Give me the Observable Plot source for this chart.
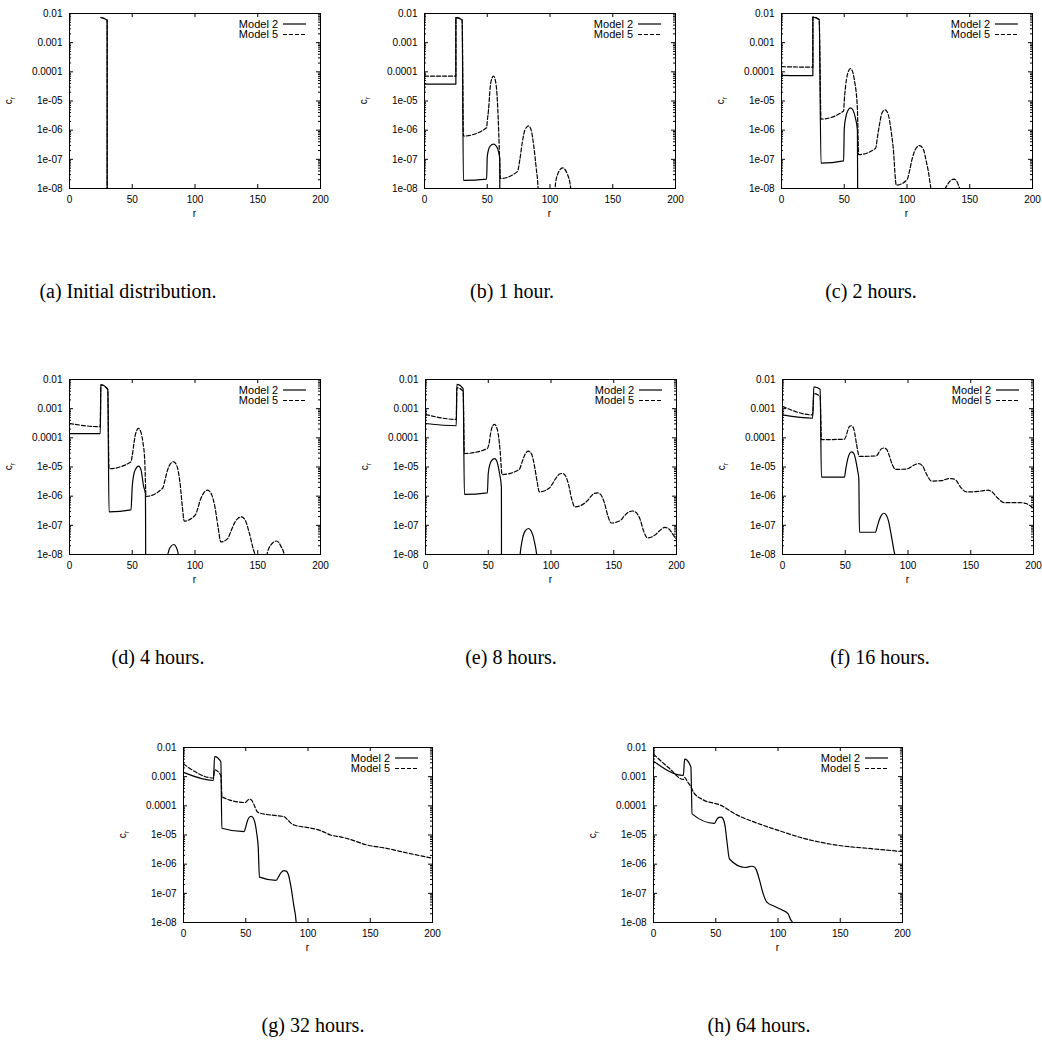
<!DOCTYPE html>
<html>
<head>
<meta charset="utf-8">
<script src="https://cdn.jsdelivr.net/npm/d3@7"></script>
<script src="https://cdn.jsdelivr.net/npm/@observablehq/plot@0.6"></script>
<style>
  html, body { margin: 0; padding: 0; background: #fff; overflow: hidden; }
  #root { position: relative; width: 1042px; height: 1048px; overflow: hidden; }
  .panel { position: absolute; }
  .panel svg { max-width: none !important; display: block; }
  .cap { position: absolute; font-family: "Liberation Serif", "Times New Roman", serif; font-size: 20px; line-height: 23px; white-space: nowrap; transform: translateX(-50%); color: #000; }
</style>
</head>
<body>
<div id="root"></div>
<script>
// ---------- axis / legend text ----------
const xTicks = [0, 50, 100, 150, 200];
const yTicks = [1e-8, 1e-7, 1e-6, 1e-5, 1e-4, 1e-3, 1e-2];
const yTickLabels = ["1e-08", "1e-07", "1e-06", "1e-05", "0.0001", "0.001", "0.01"];
const seriesNames = ["Model 2", "Model 5"];
const captions = ["(a) Initial distribution.", "(b) 1 hour.", "(c) 2 hours.", "(d) 4 hours.",
                  "(e) 8 hours.", "(f) 16 hours.", "(g) 32 hours.", "(h) 64 hours."];
const OFF = 1e-12; // value below the axis (zero concentration), clipped

// ---------- data: [r, c_r] ----------
const m2a = [[25,0.0073],[30,0.0059],[30.01,OFF]];
const m5a = [[25,0.0073],[30,0.0059],[30.01,OFF]];

const m2b = [[0,3.8e-5],[25,3.8e-5],[25,0.0072],[30,0.006],[31,1.9e-8],[49.5,2.1e-8],
  [50,1.2e-7],[51,2.1e-7],[52.5,2.9e-7],[55,3.3e-7],[57,2.9e-7],[59,1.8e-7],[60,1e-7],[60,OFF]];
const m5b = [[0,7.1e-5],[25,7.1e-5],[25,0.0072],[30,0.006],[31,6.3e-7],[49.5,1.2e-6],
  [50,2e-6],[51,4.9e-6],[52.4,3.1e-5],[53.7,5.9e-5],[55,7.1e-5],[56.4,5.2e-5],[57.7,1.8e-5],[59,1.3e-6],[59.8,1.2e-7],[60.5,2.2e-8],
  [74,3.8e-8],[76,1e-7],[78,4e-7],[80,1e-6],[83,1.4e-6],[85,1e-6],[87,3e-7],[89,5e-8],[90.5,1e-8],[91,OFF],
  [103,OFF],[104,1e-8],[106,3e-8],[110,5.1e-8],[114,3e-8],[116.5,1e-8],[117,OFF]];

const m2c = [[0,7.6e-5],[25,7.4e-5],[25,0.0075],[30,0.0062],[31.5,7.4e-8],[49.5,8.9e-8],
  [50,1.1e-6],[51,2.5e-6],[53,4.8e-6],[55,5.8e-6],[57,4.8e-6],[59,2.5e-6],[60.5,1e-6],[61,OFF]];
const m5c = [[0,1.5e-4],[25,1.45e-4],[25,0.0075],[30,0.0062],[31.5,2.4e-6],[49.5,4.5e-6],
  [50,1e-5],[51,3e-5],[52.5,8e-5],[55,1.3e-4],[57,9e-5],[58.5,4e-5],[59.5,2e-5],[60.5,5e-6],[61.5,1.45e-7],
  [75,2.4e-7],[76.5,6e-7],[78,1.5e-6],[80,3.8e-6],[82.5,5e-6],[85,3.5e-6],[87,1.2e-6],[89,2.5e-7],[91.5,1.3e-8],
  [100,2e-8],[102,4e-8],[104,1e-7],[107,2.3e-7],[110,2.95e-7],[113,2.2e-7],[115.5,8e-8],[118,2e-8],[119.5,5e-9],[120,OFF],
  [127,OFF],[128,5e-9],[132,1.3e-8],[137.5,2.1e-8],[141,1.3e-8],[143,6e-9],[143.5,OFF]];

const m2d = [[0,1.4e-4],[24.5,1.4e-4],[25,0.0066],[30.5,0.0046],[31.5,2.9e-7],[49,3.4e-7],
  [50,2.2e-6],[51,5e-6],[53,9e-6],[55,1.07e-5],[57,8e-6],[59,2.2e-6],[60.5,1.2e-6],[61,OFF],
  [77.5,OFF],[78,8e-9],[80,1.7e-8],[83,2.2e-8],[85.5,1.6e-8],[87,8e-9],[87.5,OFF]];
const m5d = [[0,3.1e-4],[24.5,2.4e-4],[25,0.0066],[30.5,0.0046],[31.5,8.7e-6],[49,1.5e-5],
  [50,2.5e-5],[51,5e-5],[52.5,1.3e-4],[55,2.1e-4],[57,1.5e-4],[58.5,7e-5],[60,1.5e-5],[61,9.8e-7],
  [74.3,1.9e-6],[76,3.5e-6],[78,7.5e-6],[80.5,1.3e-5],[83,1.5e-5],[85.5,1.1e-5],[88,3e-6],[90,4e-7],[91.4,1.4e-7],
  [100,2.2e-7],[102,3.5e-7],[104,7e-7],[107,1.3e-6],[110,1.6e-6],[113,1.2e-6],[116,4e-7],[118.5,8e-8],[120.6,2.7e-8],
  [126,3.5e-8],[128.5,6e-8],[131,1.1e-7],[134,1.7e-7],[137,1.95e-7],[140,1.5e-7],[143,6e-8],[146,1.8e-8],[148.5,6e-9],[149,OFF],
  [156.5,OFF],[157,8e-9],[160,2e-8],[165,2.9e-8],[168.5,1.9e-8],[171.5,8e-9],[172,OFF]];

const m2e = [[0,3.1e-4],[24.5,2.6e-4],[25,0.0068],[30,0.0049],[31,1.15e-6],[49.3,1.3e-6],
  [50,6e-6],[51.5,1.3e-5],[53.5,1.8e-5],[55.2,1.95e-5],[57,1.5e-5],[59,6e-6],[60.5,2e-6],[60.6,OFF],
  [74.5,OFF],[75,6e-9],[77,3e-8],[79.5,6.5e-8],[82,7.8e-8],[84.5,6e-8],[87,2.5e-8],[89,6e-9],[89.5,OFF]];
const m5e = [[0,6.3e-4],[24.5,4.3e-4],[25,0.0052],[30,0.004],[31,2.9e-5],[49.3,4.3e-5],
  [50.5,6e-5],[52,1.5e-4],[53.5,2.6e-4],[55,2.9e-4],[56.5,2.4e-4],[58,1.3e-4],[59.5,3.5e-5],[61,5.5e-6],
  [74.7,8.2e-6],[77,1.5e-5],[79.5,2.8e-5],[82,3.5e-5],[84.5,2.8e-5],[87,1e-5],[89,3e-6],[90.7,1.4e-6],
  [98.7,1.9e-6],[101,2.6e-6],[104,4.2e-6],[106.5,5.6e-6],[109,6e-6],[111.5,5e-6],[114,2.5e-6],[116.5,8e-7],[119,4.3e-7],
  [126.7,5.7e-7],[129,7e-7],[132,1e-6],[134.5,1.25e-6],[137,1.3e-6],[139.5,1.15e-6],[142.5,6e-7],[145.5,2e-7],[148,1.2e-7],
  [155.5,1.5e-7],[158,2e-7],[161,2.7e-7],[165,3.1e-7],[168,2.7e-7],[171,1.6e-7],[174,6e-8],[177,3.7e-8],
  [183.5,4.9e-8],[186.5,6.5e-8],[190.7,8.5e-8],[194,7.5e-8],[197,5e-8],[200,3.3e-8]];

const m2f = [[0,6.1e-4],[24,4.7e-4],[25,0.0056],[30,0.0046],[31,4.5e-6],[49.3,4.5e-6],
  [50.5,9e-6],[52,1.9e-5],[53.5,2.9e-5],[55.2,3.3e-5],[57,2.8e-5],[58.5,1.6e-5],[60,7e-6],[60.8,4e-6],[61.3,5.8e-8],
  [74,5.8e-8],[75.5,9e-8],[77,1.5e-7],[79,2.3e-7],[80.8,2.6e-7],[82.5,2.3e-7],[84.5,1.4e-7],[86.5,5e-8],[88.5,1.6e-8],[90,6e-9],[90.5,OFF]];
const m5f = [[0,1.2e-3],[24,6.1e-4],[25,0.0033],[30,0.0026],[31,8.7e-5],[49,8.9e-5],
  [50.5,1.1e-4],[52,1.8e-4],[53.5,2.5e-4],[54.7,2.6e-4],[56,2.4e-4],[57.5,1.5e-4],[59,6e-5],[61.3,2.3e-5],
  [74.7,2.4e-5],[76.5,3e-5],[78.5,4.1e-5],[80.8,4.5e-5],[83,4e-5],[85,2.5e-5],[87.5,1.2e-5],[90,8.3e-6],
  [98.7,8.5e-6],[101.5,9.5e-6],[104.5,1.15e-5],[108.5,1.3e-5],[111.5,1.1e-5],[114.5,6e-6],[118.7,3.3e-6],
  [126.7,3.4e-6],[129.5,3.7e-6],[132,4e-6],[135,4e-6],[138,3.6e-6],[142,2e-6],[146.7,1.4e-6],
  [156,1.45e-6],[160,1.55e-6],[163.5,1.6e-6],[167,1.4e-6],[171,9e-7],[177,6e-7],
  [189,6e-7],[194,5.6e-7],[197,4.8e-7],[200,3.9e-7]];

const m2g = [[0,1.4e-3],[24,7.4e-4],[25,0.0049],[30,0.0033],[30.8,1.7e-5],[48.7,1.3e-5],
  [50,1.9e-5],[51.5,3.2e-5],[53,4.1e-5],[54.4,4.4e-5],[56,3.8e-5],[57.5,2.5e-5],[59,1e-5],[60,4e-6],[61,3.6e-7],
  [74.4,2.8e-7],[76.5,3.8e-7],[78.5,5.2e-7],[80.5,6e-7],[82.5,5.8e-7],[84.5,4e-7],[86.5,1.5e-7],[88.5,4e-8],[90.5,1e-8],[91,2e-9],[91.2,OFF]];
const m5g = [[0,2.7e-3],[24,9e-4],[25,1.7e-3],[30,1.1e-3],[31,2e-4],[49.5,1.3e-4],[51.5,1.55e-4],[53,1.7e-4],[55,1.5e-4],
  [57,1e-4],[59,6.5e-5],[61,5.7e-5],[75,4.6e-5],[79,4.4e-5],[81,4.2e-5],[84,3.2e-5],[87,2.4e-5],[89,2.2e-5],
  [100,1.8e-5],[107,1.56e-5],[112,1.3e-5],[118,1e-5],[127,8.5e-6],[135,6.8e-6],[147,4.6e-6],[163,3.5e-6],[180,2.4e-6],[200,1.6e-6]];

const m2h = [[0,3.4e-3],[24,1.1e-3],[25,4e-3],[30,2.2e-3],[31,5.3e-5],[49,2.5e-5],[51,3.5e-5],[52.5,4e-5],[54.4,4.1e-5],
  [56,3.5e-5],[57.5,2e-5],[59,6e-6],[61,1.5e-6],[73.6,7.7e-7],[76,8e-7],[78.5,8.5e-7],[80.3,8.3e-7],[82.5,6.5e-7],
  [85,3e-7],[88,1e-7],[91,5e-8],[97,3.6e-8],[104,2.6e-8],[108,2e-8],[110,1.3e-8],[112,9e-9],[112.5,OFF]];
const m5h = [[0,5.9e-3],[12,2.05e-3],[24,8e-4],[25,9.5e-4],[27,7e-4],[30,4.5e-4],[32,3e-4],[40,1.6e-4],[53.5,1.07e-4],
  [67,4.9e-5],[81.6,2.7e-5],[99,1.5e-5],[120,7.8e-6],[147,4.5e-6],[175,3.4e-6],[200,2.7e-6]];

// ---------- layout ----------
const panels = [
  {m2: m2a, m5: m5a, left: 0,   top: 0,   pw: 251, cap: captions[0], cx: 128},
  {m2: m2b, m5: m5b, left: 355, top: 0,   pw: 251, cap: captions[1], cx: 512},
  {m2: m2c, m5: m5c, left: 712, top: 0,   pw: 251, cap: captions[2], cx: 871},
  {m2: m2d, m5: m5d, left: 0,   top: 366, pw: 251, cap: captions[3], cx: 158},
  {m2: m2e, m5: m5e, left: 356, top: 366, pw: 251, cap: captions[4], cx: 511},
  {m2: m2f, m5: m5f, left: 713, top: 366, pw: 251, cap: captions[5], cx: 880},
  {m2: m2g, m5: m5g, left: 114, top: 734, pw: 249, cap: captions[6], cx: 313},
  {m2: m2h, m5: m5h, left: 584, top: 734, pw: 249, cap: captions[7], cx: 759}
];

const ML = 69, MT = 13, PH = 175, MR = 20, MB = 42;
const yMinor = [];
for (const t of yTicks.slice(0, -1)) for (let k = 2; k <= 9; k++) yMinor.push(t * k);
const fmtY = d => {
  const i = yTicks.findIndex(t => Math.abs(Math.log10(t) - Math.log10(d)) < 1e-6);
  return i >= 0 ? yTickLabels[i] : "";
};

const root = document.getElementById("root");
for (const p of panels) {
  const pw = p.pw;
  const W = ML + pw + MR, H = MT + PH + MB;
  const svg = Plot.plot({
    width: W, height: H,
    marginLeft: ML, marginTop: MT, marginRight: MR, marginBottom: MB,
    x: {domain: [0, 200]},
    y: {type: "log", domain: [1e-8, 0.01]},
    style: {fontFamily: "'Liberation Sans', Arial, sans-serif", fontSize: "10px", background: "transparent", color: "#000", overflow: "visible", maxWidth: "none"},
    marks: [
      Plot.axisX({ticks: xTicks, tickSize: 0, tickPadding: 7, label: null, tickFormat: d => String(d)}),
      Plot.axisY({ticks: yTicks, tickSize: 0, tickPadding: 7, label: null, tickFormat: fmtY}),
      Plot.ruleX(xTicks, {insetTop: PH - 4, stroke: "#000"}),
      Plot.ruleX(xTicks, {insetBottom: PH - 4, stroke: "#000"}),
      Plot.ruleY(yTicks, {insetRight: pw - 4, stroke: "#000"}),
      Plot.ruleY(yTicks, {insetLeft: pw - 4, stroke: "#000"}),
      Plot.ruleY(yMinor, {insetRight: pw - 2, stroke: "#000"}),
      Plot.ruleY(yMinor, {insetLeft: pw - 2, stroke: "#000"}),
      Plot.line(p.m2, {x: d => d[0], y: d => d[1], curve: "monotone-x", stroke: "#000", strokeWidth: 1.2, clip: true}),
      Plot.line(p.m5, {x: d => d[0], y: d => d[1], curve: "monotone-x", stroke: "#000", strokeWidth: 1.2, strokeDasharray: "4,2", clip: true}),
      Plot.frame({stroke: "#000", strokeWidth: 1})
    ]
  });
  svg.setAttribute("width", W);
  svg.setAttribute("height", H);
  svg.style.width = W + "px";
  svg.style.height = H + "px";
  const s = d3.select(svg);
  // x label
  s.append("text").attr("x", ML + pw / 2).attr("y", MT + PH + 29)
    .attr("text-anchor", "middle").attr("font-size", 10).attr("fill", "#000").text("r");
  // y label c_r
  const yl = s.append("text").attr("transform", `translate(${ML - 57},${MT + PH / 2}) rotate(-90)`)
    .attr("text-anchor", "middle").attr("font-size", 10).attr("fill", "#000");
  yl.append("tspan").text("c");
  yl.append("tspan").attr("font-size", 7).attr("dy", 3).text("r");
  // legend
  const right = ML + pw;
  seriesNames.forEach((name, i) => {
    const y = MT + 11 + i * 10.5;
    s.append("text").attr("x", right - 42).attr("y", y).attr("dy", "0.35em")
      .attr("text-anchor", "end").attr("font-size", 11).attr("fill", "#000").text(name);
    s.append("line").attr("x1", right - 37).attr("x2", right - 14).attr("y1", y).attr("y2", y)
      .attr("stroke", "#000").attr("stroke-width", 1.2)
      .attr("stroke-dasharray", i === 1 ? "4,2" : null);
  });
  const div = document.createElement("div");
  div.className = "panel";
  div.style.left = p.left + "px";
  div.style.top = p.top + "px";
  div.style.width = W + "px";
  div.style.height = H + "px";
  div.appendChild(svg);
  root.appendChild(div);
  const cap = document.createElement("div");
  cap.className = "cap";
  cap.style.left = p.cx + "px";
  cap.style.top = (p.top + 280) + "px";
  cap.textContent = p.cap;
  root.appendChild(cap);
}
</script>
</body>
</html>
